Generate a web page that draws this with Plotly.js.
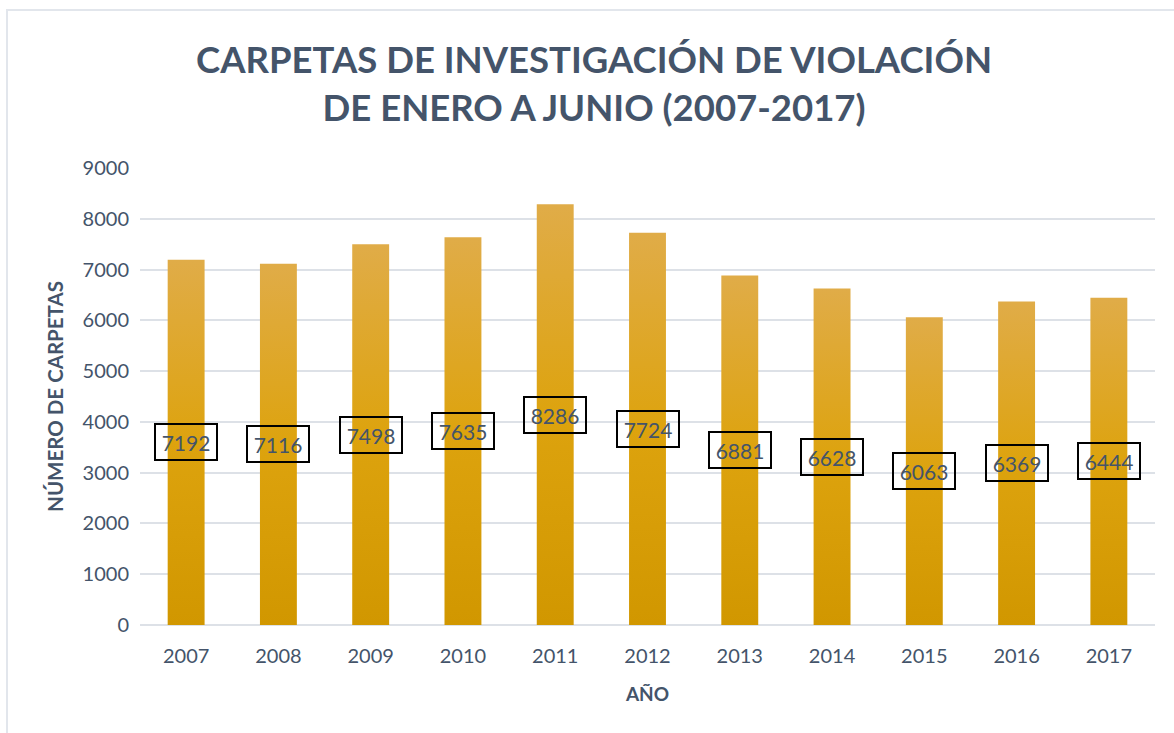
<!DOCTYPE html>
<html>
<head>
<meta charset="utf-8">
<script src="https://cdn.plot.ly/plotly-3.0.1.min.js"></script>
<style>
html,body{margin:0;padding:0;background:#fff;}
#chart{width:1174px;height:733px;}
#frame{position:absolute;left:6px;top:9px;width:1200px;height:800px;border:2px solid #E2E6EC;pointer-events:none;box-sizing:border-box;}
</style>
</head>
<body>
<div id="chart"></div>
<div id="frame"></div>
<script>
const years = ['2007','2008','2009','2010','2011','2012','2013','2014','2015','2016','2017'];
const carpetas = [7192, 7116, 7498, 7635, 8286, 7724, 6881, 6628, 6063, 6369, 6444];
const yTicks = [0,1000,2000,3000,4000,5000,6000,7000,8000,9000];

const FONT = 'Lato, "Open Sans", sans-serif';
const TXT = '#44546A';

const annotations = years.map((yr, i) => ({
  x: i, y: carpetas[i] / 2, xref: 'x', yref: 'y',
  text: String(carpetas[i]), showarrow: false,
  font: {family: FONT, size: 21, color: TXT},
  bordercolor: '#000000', borderwidth: 2, borderpad: 1,
  width: 58, height: 32, bgcolor: 'rgba(0,0,0,0)',
  xanchor: 'center', yanchor: 'middle'
}));

const data = [{
  type: 'bar', x: years, y: carpetas,
  marker: {color: '#DCA21A', line: {width: 0}},
  hoverinfo: 'x+y'
}];

const layout = {
  width: 1174, height: 733,
  margin: {l: 140, r: 19, t: 168, b: 108},
  paper_bgcolor: '#ffffff', plot_bgcolor: '#ffffff',
  bargap: 0.6,
  showlegend: false,
  title: {
    text: 'CARPETAS DE INVESTIGACIÓN DE VIOLACIÓN<br>DE ENERO A JUNIO (2007-2017)',
    font: {family: FONT, size: 36.5, color: TXT, weight: 'bold'},
    x: 0.506, xanchor: 'center', y: 0.9, yanchor: 'middle', yref: 'container'
  },
  xaxis: {
    type: 'category', range: [-0.5, 10.5], autorange: false,
    showgrid: false, showline: false, ticks: '',
    tickfont: {family: FONT, size: 20, color: TXT},
    ticklabelstandoff: 17,
    title: {text: 'AÑO', font: {family: FONT, size: 19, color: TXT, weight: 'bold'}, standoff: 21}
  },
  yaxis: {
    range: [0, 9000], autorange: false, tickvals: yTicks, ticktext: yTicks.map(String),
    showgrid: true, gridcolor: '#DDE1E7', gridwidth: 1.6,
    zeroline: true, zerolinecolor: '#DDE1E7', zerolinewidth: 1.6,
    showline: false, ticks: '',
    tickfont: {family: FONT, size: 20, color: TXT},
    ticklabelstandoff: 10,
    title: {text: 'NÚMERO DE CARPETAS', font: {family: FONT, size: 20.5, color: TXT, weight: 'bold'}, standoff: 13}
  },
  annotations: annotations
};

function applyGradient() {
  const gd = document.getElementById('chart');
  const svg = gd.querySelector('svg.main-svg');
  if (!svg) return;
  const ns = 'http://www.w3.org/2000/svg';
  if (!svg.querySelector('#barGrad')) {
    let defs = svg.querySelector('defs');
    if (!defs) { defs = document.createElementNS(ns, 'defs'); svg.insertBefore(defs, svg.firstChild); }
    const lg = document.createElementNS(ns, 'linearGradient');
    lg.setAttribute('id', 'barGrad');
    lg.setAttribute('x1', '0'); lg.setAttribute('y1', '0');
    lg.setAttribute('x2', '0'); lg.setAttribute('y2', '1');
    [['0', '#E0AC48'], ['0.5', '#DDA30E'], ['1', '#D19700']].forEach(([o, c]) => {
      const s = document.createElementNS(ns, 'stop');
      s.setAttribute('offset', o); s.setAttribute('stop-color', c);
      lg.appendChild(s);
    });
    defs.appendChild(lg);
  }
  gd.querySelectorAll('.trace.bars .point path').forEach(p => { p.style.fill = 'url(#barGrad)'; });
}

Plotly.newPlot('chart', data, layout, {displayModeBar: false, responsive: false}).then(gd => {
  applyGradient();
  gd.on('plotly_afterplot', applyGradient);
});
</script>
</body>
</html>
